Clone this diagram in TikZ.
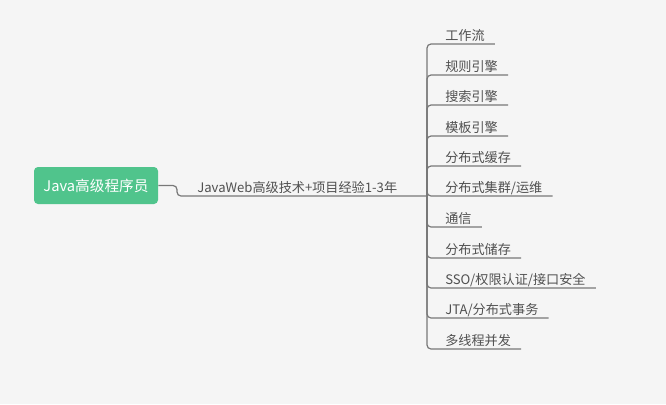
\documentclass[tikz,border=0pt]{standalone}
\usepackage{fontspec}
\setmainfont{Noto Sans CJK SC}
\definecolor{bgcol}{RGB}{245,245,245}
\definecolor{rootcol}{RGB}{80,196,140}
\definecolor{txtcol}{RGB}{80,80,80}
\definecolor{linecol}{RGB}{120,120,120}
\begin{document}
\begin{tikzpicture}[x=0.75pt, y=-0.75pt,
    rootbox/.style={fill=rootcol, rounded corners=3pt, text=white, font=\fontsize{11}{13}\selectfont,
        minimum width=93pt, minimum height=27.75pt, inner sep=0pt},
    leaf/.style={text=txtcol, font=\fontsize{9.85}{12}\selectfont, inner xsep=7.5pt, inner ysep=0pt,
        text depth=2.25pt, anchor=south west},
    conn/.style={draw=linecol, line width=0.9pt, rounded corners=3pt}]
        % background and size
        \fill[bgcol] (0,0) rectangle (666,404);
        \useasboundingbox (0,0) rectangle (666,404);

        % Root and main branch
        \node[rootbox] (root) at (96,185.5) {Java高级程序员};
        \node[leaf, inner xsep=0pt] (branch) at (197,196) {JavaWeb高级技术+项目经验1-3年};
        \coordinate (bl) at (177,196);
        \coordinate (hub) at (427,196);
        \draw[conn] (root.east) -| (bl) -- (hub);

        % Leaves
        \node[leaf] (l1) at (435,44) {工作流};
        \node[leaf] (l2) at (435,75) {规则引擎};
        \node[leaf] (l3) at (435,105) {搜索引擎};
        \node[leaf] (l4) at (435,136) {模板引擎};
        \node[leaf] (l5) at (435,166) {分布式缓存};
        \node[leaf] (l6) at (435,196) {分布式集群/运维};
        \node[leaf] (l7) at (435,227) {通信};
        \node[leaf] (l8) at (435,258) {分布式储存};
        \node[leaf] (l9) at (435,288) {SSO/权限认证/接口安全};
        \node[leaf] (l10) at (435,318) {JTA/分布式事务};
        \node[leaf] (l11) at (435,349) {多线程并发};

        % Connectors from hub to leaves
        \foreach \n in {1,...,11}
            \draw[conn] (hub) |- (l\n.south east);
    \end{tikzpicture}
\end{document}
